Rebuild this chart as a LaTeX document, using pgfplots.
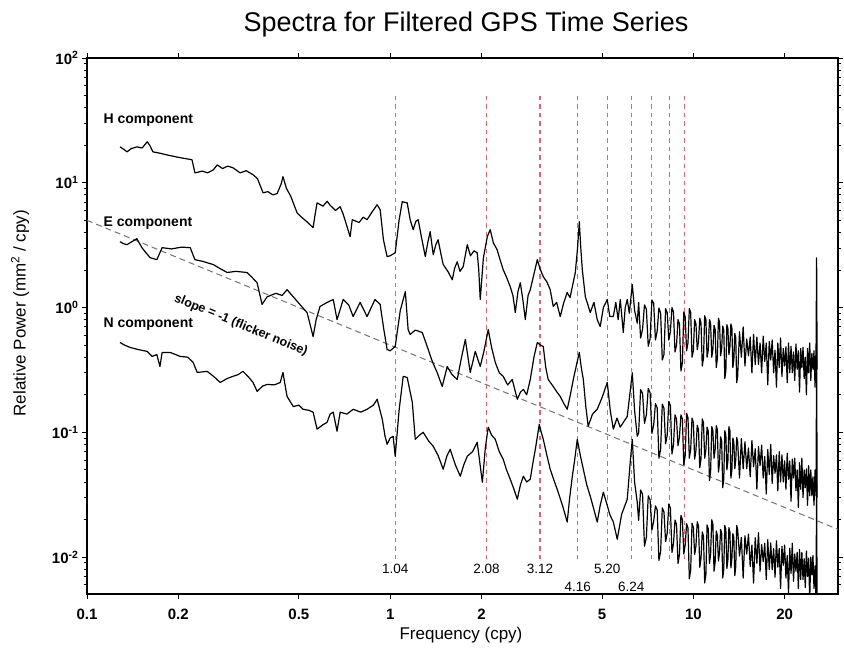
\documentclass[border=0pt]{standalone}
\usepackage{fontspec}
\setmainfont{Liberation Sans}
\usepackage{pgfplots}
\pgfplotsset{compat=1.18}

\definecolor{reddash}{RGB}{232,95,115}
\definecolor{slopegray}{RGB}{115,115,115}

\begin{document}
\begin{tikzpicture}
\useasboundingbox (-87pt,-54pt) rectangle (757pt,594pt);
\begin{axis}[
  at={(0pt,0pt)}, anchor=south west,
  scale only axis, width=751pt, height=536pt,
  xmode=log, ymode=log,
  xmin=0.1, xmax=30, ymin=0.00506, ymax=100,
  xtick={0.1,0.2,0.5,1,2,5,10,20},
  xticklabels={0.1,0.2,0.5,1,2,5,10,20},
  minor xtick={},
  ytick={0.01,0.1,1,10,100},
  yticklabels={10\textsuperscript{-2},10\textsuperscript{-1},10\textsuperscript{0},10\textsuperscript{1},10\textsuperscript{2}},
  minor ytick={0.006,0.007,0.008,0.009,0.02,0.03,0.04,0.05,0.06,0.07,0.08,0.09,
               0.2,0.3,0.4,0.5,0.6,0.7,0.8,0.9,2,3,4,5,6,7,8,9,20,30,40,50,60,70,80,90},
  tick align=outside,
  major tick length=5pt, minor tick length=3pt,
  axis line style={line width=1.6pt},
  every tick/.style={black, line width=0.9pt},
  tick label style={font=\fontsize{15}{18}\selectfont\bfseries},
  xticklabel style={yshift=-7pt},
  xlabel={Frequency (cpy)},
  ylabel={Relative Power (mm\textsuperscript{2} / cpy)},
  label style={font=\fontsize{17}{20}\selectfont},
  xlabel style={at={(axis description cs:0.498,-0.084)}, anchor=base},
  ylabel style={at={(axis description cs:-0.0892,0.524)}, anchor=center},
  every axis plot/.append style={line join=round},
]

% red dashed annual harmonics
\addplot[reddash, line width=1.2pt, dash pattern=on 4.5pt off 4pt] coordinates {(1.04,0.0096) (1.04,50)};
\addplot[reddash, line width=1.2pt, dash pattern=on 4.5pt off 4pt] coordinates {(2.08,0.0096) (2.08,50)};
\addplot[reddash, line width=1.2pt, dash pattern=on 4.5pt off 4pt] coordinates {(3.12,0.0096) (3.12,50)};
\addplot[reddash, line width=1.2pt, dash pattern=on 4.5pt off 4pt] coordinates {(4.16,0.0096) (4.16,50)};
\addplot[reddash, line width=1.2pt, dash pattern=on 4.5pt off 4pt] coordinates {(5.20,0.0096) (5.20,50)};
\addplot[reddash, line width=1.2pt, dash pattern=on 4.5pt off 4pt] coordinates {(6.24,0.0096) (6.24,50)};
\addplot[reddash, line width=1.2pt, dash pattern=on 4.5pt off 4pt] coordinates {(7.28,0.0096) (7.28,50)};
\addplot[reddash, line width=1.2pt, dash pattern=on 4.5pt off 4pt] coordinates {(8.32,0.0096) (8.32,50)};
\addplot[reddash, line width=1.2pt, dash pattern=on 4.5pt off 4pt] coordinates {(9.36,0.0096) (9.36,50)};

% flicker noise reference line
\addplot[slopegray, line width=1pt, dash pattern=on 6pt off 4pt] coordinates {(0.1,5) (30,0.01667)};

% H component
\addplot[black, line width=1.2pt] table {
0.1285 19.4
0.1320 18.6
0.1355 17.7
0.1400 18.8
0.146 19.4
0.152 19.0
0.158 21.3
0.161 20.0
0.165 17.7
0.175 17.2
0.184 16.7
0.200 16.0
0.212 15.6
0.222 15.3
0.227 12.0
0.240 12.4
0.250 12.0
0.261 12.7
0.269 13.9
0.280 13.0
0.291 13.6
0.303 13.2
0.320 12.0
0.335 12.5
0.353 11.6
0.365 10.8
0.381 8.3
0.395 8.5
0.410 8.0
0.424 8.2
0.437 9.8
0.443 11.2
0.455 9.0
0.470 7.8
0.493 5.75
0.510 5.3
0.530 4.9
0.557 4.37
0.565 5.5
0.574 6.9
0.600 6.5
0.620 7.1
0.634 6.6
0.660 6.0
0.684 6.43
0.700 5.6
0.738 3.70
0.750 5.06
0.790 4.8
0.815 5.3
0.839 5.06
0.870 5.8
0.906 6.67
0.927 6.08
0.950 3.5
0.977 2.56
1.000 2.6
1.039 2.75
1.070 5.0
1.096 7.05
1.138 6.9
1.164 5.06
1.191 4.21
1.215 4.9
1.237 5.06
1.270 3.6
1.306 2.56
1.330 3.3
1.355 4.06
1.387 2.65
1.415 3.2
1.439 3.50
1.470 2.7
1.496 2.21
1.550 1.95
1.603 1.67
1.630 2.05
1.664 2.33
1.700 1.95
1.742 2.13
1.796 3.19
1.840 2.6
1.890 2.85
1.937 2.75
1.960 2.0
1.982 1.16
2.030 2.5
2.091 3.70
2.138 4.21
2.190 3.3
2.253 2.91
2.300 2.45
2.360 2.01
2.420 1.75
2.489 1.47
2.540 1.25
2.587 0.912
2.640 1.35
2.687 1.58
2.740 1.15
2.791 0.80
2.850 1.25
2.898 1.39
2.980 1.85
3.057 2.42
3.120 2.05
3.199 1.77
3.290 1.60
3.372 1.39
3.451 1.02
3.540 1.10
3.639 0.847
3.740 1.10
3.837 1.32
3.920 1.20
3.990 1.47
4.080 1.91
4.150 3.0
4.206 4.88
4.250 3.1
4.303 2.01
4.403 1.22
4.490 1.05
4.570 0.912
4.700 1.10
4.819 0.80
4.930 0.705
5.050 1.0
5.201 1.16
5.300 0.85
5.446 0.847
5.550 1.10
5.650 0.80
5.741 1.16
5.874 0.631
5.960 1.0
6.053 1.16
6.150 0.90
6.290 1.53
6.400 0.95
6.531 0.75
6.6 1.10
6.7 0.57
6.8 0.67
6.9 1.05
7.0 0.97
7.1 0.49
7.2 0.56
7.3 1.15
7.4 1.08
7.5 0.55
7.6 0.65
7.7 0.99
7.8 0.90
7.9 0.38
8.0 0.42
8.1 0.98
8.2 0.91
8.3 0.55
8.4 0.64
8.5 1.00
8.6 0.92
8.7 0.44
8.8 0.50
8.9 0.80
9.0 0.74
9.1 0.31
9.2 0.36
9.3 0.92
9.4 0.84
9.5 0.45
9.6 0.52
9.7 0.98
9.8 0.91
9.9 0.40
10.0 0.45
10.1 0.80
10.2 0.74
10.3 0.46
10.4 0.535
10.5 0.82
10.6 0.75
10.7 0.34
10.8 0.39
10.9 0.86
11.0 0.80
11.1 0.40
11.2 0.455
11.3 0.80
11.4 0.75
11.5 0.40
11.6 0.46
11.7 0.72
11.8 0.67
11.9 0.33
12.0 0.39
12.1 0.82
12.2 0.765
12.3 0.41
12.4 0.47
12.5 0.71
12.6 0.66
12.7 0.27
12.8 0.31
12.9 0.73
13.0 0.68
13.1 0.42
13.2 0.48
13.3 0.74
13.4 0.69
13.5 0.33
13.6 0.38
13.7 0.62
13.8 0.57
13.9 0.25
14.0 0.28
14.2 0.64
14.4 0.40
14.6 0.70
14.8 0.34
15.0 0.56
15.2 0.41
15.4 0.58
15.6 0.30
15.8 0.61
16.0 0.35
16.2 0.58
16.4 0.35
16.6 0.52
16.8 0.30
17.0 0.59
17.2 0.37
17.4 0.52
17.6 0.24
17.8 0.535
18.0 0.38
18.2 0.55
18.4 0.30
18.6 0.455
18.8 0.23
19.0 0.52
19.2 0.33
19.4 0.57
19.6 0.28
19.8 0.47
20.0 0.34
20.2 0.485
20.4 0.25
20.6 0.52
20.8 0.30
21.0 0.49
21.2 0.30
21.4 0.44
21.6 0.26
21.8 0.51
22.0 0.32
22.2 0.45
22.4 0.21
22.6 0.47
22.8 0.33
23.0 0.48
23.2 0.27
23.4 0.40
23.6 0.20
23.8 0.47
24.0 0.30
24.2 0.52
24.4 0.26
24.6 0.43
24.8 0.32
25.0 0.45
25.2 0.23
25.4 0.49
25.5 2.5
25.6 0.32
};

% E component
\addplot[black, line width=1.2pt] table {
0.1285 3.37
0.1320 3.25
0.1355 3.19
0.140 3.35
0.146 3.56
0.152 3.0
0.1615 2.51
0.170 2.42
0.177 3.02
0.190 2.95
0.205 3.05
0.219 3.02
0.227 2.42
0.240 2.35
0.261 2.21
0.275 2.05
0.290 1.91
0.310 1.95
0.337 1.91
0.350 1.75
0.364 1.58
0.378 1.06
0.393 1.22
0.420 1.30
0.440 1.25
0.457 1.39
0.479 1.22
0.505 1.05
0.532 0.912
0.557 0.586
0.570 0.80
0.587 1.02
0.620 1.10
0.649 1.16
0.668 0.80
0.700 1.16
0.730 1.05
0.755 0.847
0.796 1.10
0.839 0.847
0.891 1.16
0.927 1.06
0.950 0.70
0.977 0.461
1.000 0.45
1.039 0.488
1.080 0.95
1.122 1.34
1.146 0.667
1.164 0.608
1.210 0.66
1.276 0.631
1.320 0.50
1.377 0.370
1.430 0.30
1.485 0.233
1.542 0.337
1.600 0.29
1.664 0.265
1.720 0.40
1.770 0.555
1.837 0.302
1.909 0.445
1.982 0.337
2.040 0.45
2.106 0.667
2.160 0.48
2.222 0.363
2.290 0.30
2.360 0.281
2.440 0.24
2.527 0.265
2.626 0.184
2.690 0.21
2.750 0.221
2.820 0.20
2.898 0.265
2.980 0.40
3.057 0.525
3.130 0.50
3.199 0.488
3.260 0.33
3.321 0.265
3.451 0.233
3.550 0.21
3.639 0.194
3.740 0.17
3.837 0.153
3.930 0.20
4.018 0.265
4.120 0.35
4.206 0.437
4.270 0.33
4.336 0.265
4.420 0.16
4.499 0.112
4.650 0.14
4.819 0.153
5.000 0.19
5.201 0.251
5.320 0.15
5.446 0.106
5.600 0.13
5.741 0.11
5.874 0.12
6.053 0.134
6.200 0.22
6.290 0.30
6.400 0.15
6.531 0.093
6.6 0.099
6.7 0.22
6.8 0.205
6.9 0.118
7.0 0.138
7.1 0.225
7.2 0.208
7.3 0.098
7.4 0.115
7.5 0.17
7.6 0.157
7.7 0.062
7.8 0.073
7.9 0.168
8.0 0.156
8.1 0.081
8.2 0.095
8.3 0.177
8.4 0.164
8.5 0.067
8.6 0.079
8.7 0.138
8.8 0.128
8.9 0.078
9.0 0.092
9.1 0.138
9.2 0.128
9.3 0.055
9.4 0.065
9.5 0.142
9.6 0.131
9.7 0.062
9.8 0.073
9.9 0.130
10.0 0.120
10.1 0.061
10.2 0.072
10.3 0.114
10.4 0.105
10.5 0.052
10.6 0.061
10.7 0.128
10.8 0.119
10.9 0.062
11.0 0.073
11.1 0.110
11.2 0.102
11.3 0.041
11.4 0.048
11.5 0.111
11.6 0.103
11.7 0.062
11.8 0.073
11.9 0.113
12.0 0.105
12.1 0.048
12.2 0.057
12.3 0.092
12.4 0.085
12.5 0.036
12.6 0.042
12.7 0.103
12.8 0.095
12.9 0.050
13.0 0.059
13.1 0.111
13.2 0.103
13.3 0.043
13.4 0.050
13.5 0.090
13.6 0.083
13.7 0.051
13.8 0.060
13.9 0.091
14.0 0.084
14.2 0.043
14.4 0.089
14.6 0.051
14.8 0.084
15.0 0.051
15.2 0.075
15.4 0.044
15.6 0.086
15.8 0.053
16.0 0.074
16.2 0.035
16.4 0.077
16.6 0.054
16.8 0.079
17.0 0.043
17.2 0.064
17.4 0.032
17.6 0.073
17.8 0.046
18.0 0.080
18.2 0.039
18.4 0.065
18.6 0.047
18.8 0.066
19.0 0.034
19.2 0.070
19.4 0.040
19.6 0.066
19.8 0.040
20.0 0.059
20.2 0.035
20.4 0.068
20.6 0.042
20.8 0.059
21.0 0.028
21.2 0.061
21.4 0.043
21.6 0.062
21.8 0.034
22.0 0.050
22.2 0.025
22.4 0.057
22.6 0.035
22.8 0.062
23.0 0.030
23.2 0.050
23.4 0.036
23.6 0.051
23.8 0.026
24.0 0.054
24.2 0.031
24.4 0.050
24.6 0.031
24.8 0.044
25.0 0.026
25.2 0.050
25.4 0.031
25.5 0.5
25.6 0.03
};

% N component
\addplot[black, line width=1.2pt] table {
0.1285 0.525
0.1330 0.50
0.1387 0.479
0.148 0.46
0.158 0.445
0.164 0.406
0.170 0.42
0.174 0.337
0.177 0.437
0.188 0.437
0.203 0.406
0.215 0.40
0.224 0.363
0.231 0.302
0.249 0.308
0.262 0.28
0.275 0.251
0.290 0.27
0.303 0.281
0.315 0.29
0.327 0.308
0.340 0.28
0.353 0.251
0.364 0.213
0.380 0.235
0.393 0.242
0.415 0.24
0.434 0.251
0.443 0.302
0.450 0.24
0.457 0.194
0.479 0.161
0.500 0.165
0.516 0.153
0.540 0.150
0.557 0.145
0.574 0.106
0.600 0.115
0.619 0.120
0.634 0.14
0.649 0.145
0.668 0.102
0.684 0.145
0.720 0.14
0.755 0.153
0.800 0.145
0.839 0.153
0.880 0.165
0.906 0.184
0.942 0.127
0.962 0.0929
0.977 0.0802
1.000 0.09
1.023 0.0929
1.039 0.0643
1.070 0.15
1.104 0.281
1.138 0.275
1.183 0.174
1.210 0.0879
1.250 0.095
1.285 0.100
1.340 0.085
1.387 0.0773
1.440 0.065
1.496 0.0506
1.540 0.065
1.578 0.0731
1.640 0.055
1.703 0.0445
1.750 0.055
1.796 0.0643
1.870 0.070
1.937 0.0832
1.980 0.055
2.014 0.0398
2.060 0.075
2.106 0.110
2.160 0.095
2.222 0.0879
2.290 0.070
2.360 0.0608
2.420 0.050
2.489 0.0421
2.560 0.035
2.626 0.0291
2.690 0.038
2.750 0.0445
2.820 0.040
2.898 0.0421
2.950 0.055
3.012 0.0731
3.103 0.116
3.150 0.10
3.199 0.0879
3.290 0.065
3.372 0.0506
3.460 0.042
3.556 0.035
3.700 0.026
3.837 0.0191
3.910 0.030
3.990 0.0445
4.060 0.060
4.141 0.0879
4.240 0.065
4.336 0.0506
4.450 0.038
4.570 0.0308
4.700 0.024
4.819 0.0191
4.930 0.026
5.048 0.0331
5.200 0.026
5.300 0.022
5.446 0.0191
5.611 0.0139
5.800 0.022
6.053 0.0291
6.200 0.060
6.290 0.0879
6.400 0.040
6.531 0.0275
6.6 0.0197
6.7 0.0345
6.8 0.0319
6.9 0.0122
7.0 0.0144
7.1 0.031
7.2 0.0288
7.3 0.0165
7.4 0.0194
7.5 0.0257
7.6 0.0238
7.7 0.0094
7.8 0.0111
7.9 0.0248
8.0 0.0230
8.1 0.0133
8.2 0.0156
8.3 0.0267
8.4 0.0247
8.5 0.0109
8.6 0.0128
8.7 0.0198
8.8 0.0183
8.9 0.0089
9.0 0.0105
9.1 0.0216
9.2 0.0200
9.3 0.0106
9.4 0.0125
9.5 0.0185
9.6 0.0171
9.7 0.0067
9.8 0.0079
9.9 0.0187
10.0 0.0173
10.1 0.0105
10.2 0.0123
10.3 0.0192
10.4 0.0178
10.5 0.0083
10.6 0.0098
10.7 0.0159
10.8 0.0147
10.9 0.0062
11.0 0.0073
11.1 0.0181
11.2 0.0168
11.3 0.0089
11.4 0.0105
11.5 0.0199
11.6 0.0184
11.7 0.0077
11.8 0.0091
11.9 0.0162
12.0 0.0150
12.1 0.0093
12.2 0.0109
12.3 0.0167
12.4 0.0155
12.5 0.0068
12.6 0.0080
12.7 0.0179
12.8 0.0166
12.9 0.0081
13.0 0.0095
13.1 0.0172
13.2 0.0159
13.3 0.0082
13.4 0.0097
13.5 0.0154
13.6 0.0143
13.7 0.0071
13.8 0.0084
13.9 0.0179
14.0 0.0166
14.2 0.0102
14.4 0.0144
14.6 0.0068
14.8 0.0148
15.0 0.0106
15.2 0.0153
15.4 0.0084
15.6 0.0125
15.8 0.0062
16.0 0.0143
16.2 0.0089
16.4 0.0157
16.6 0.0077
16.8 0.0126
17.0 0.0092
17.2 0.0129
17.4 0.0066
17.6 0.0138
17.8 0.0079
18.0 0.0130
18.2 0.0079
18.4 0.0117
18.6 0.0069
18.8 0.0135
19.0 0.0083
19.2 0.0117
19.4 0.0056
19.6 0.0122
19.8 0.0086
20.0 0.0125
20.2 0.0068
20.4 0.0103
20.6 0.0051
20.8 0.0118
21.0 0.0074
21.2 0.0129
21.4 0.0064
21.6 0.0106
21.8 0.0077
22.0 0.0109
22.2 0.0056
22.4 0.0115
22.6 0.0066
22.8 0.0109
23.0 0.0066
23.2 0.0097
23.4 0.0057
23.6 0.0112
23.8 0.0070
24.0 0.0098
24.2 0.0046
24.4 0.0100
24.6 0.0072
24.8 0.0103
25.0 0.0056
25.2 0.0085
25.4 0.0042
25.5 0.05
25.6 0.003
};

% annotations
\node[anchor=west, font=\fontsize{14}{16}\selectfont\bfseries] at (axis cs:0.1104,31.9) {H component};
\node[anchor=west, font=\fontsize{14}{16}\selectfont\bfseries] at (axis cs:0.1104,4.79) {E component};
\node[anchor=west, font=\fontsize{14}{16}\selectfont\bfseries] at (axis cs:0.1104,0.73) {N component};
\node[rotate=-22.4, font=\fontsize{12.5}{15}\selectfont\bfseries] at (axis cs:0.322,0.72) {slope = -1 (flicker noise)};

\node[font=\fontsize{13.5}{16}\selectfont] at (axis cs:1.04,0.0080) {1.04};
\node[font=\fontsize{13.5}{16}\selectfont] at (axis cs:2.08,0.0080) {2.08};
\node[font=\fontsize{13.5}{16}\selectfont] at (axis cs:3.12,0.0080) {3.12};
\node[font=\fontsize{13.5}{16}\selectfont] at (axis cs:5.20,0.0080) {5.20};
\node[font=\fontsize{13.5}{16}\selectfont] at (axis cs:4.16,0.00575) {4.16};
\node[font=\fontsize{13.5}{16}\selectfont] at (axis cs:6.24,0.00575) {6.24};
\end{axis}
\node[anchor=base, font=\fontsize{27}{32}\selectfont] at (379pt,562pt) {Spectra for Filtered GPS Time Series};
\end{tikzpicture}
\end{document}
